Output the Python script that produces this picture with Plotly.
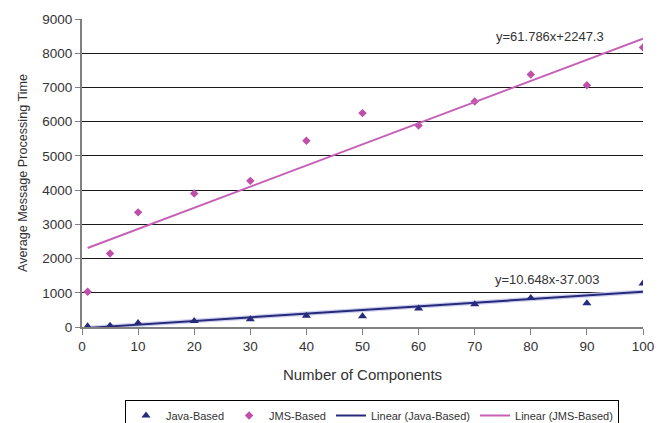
import plotly.graph_objects as go

x_components = [1, 5, 10, 20, 30, 40, 50, 60, 70, 80, 90, 100]
java_based = [20, 40, 120, 175, 225, 330, 312, 538, 665, 850, 694, 1270]
jms_based = [1030, 2150, 3350, 3900, 4270, 5440, 6250, 5886, 6588, 7378, 7067, 8167]

java_slope, java_intercept = 10.648, -37.003
jms_slope, jms_intercept = 61.786, 2247.3
trend_x = [1, 100]
java_trend = [java_slope * v + java_intercept for v in trend_x]
jms_trend = [jms_slope * v + jms_intercept for v in trend_x]

x_ticks = list(range(0, 101, 10))
y_ticks = list(range(0, 9001, 1000))

NAVY = "#27297A"
MAGENTA = "#C04FAA"
FONT = "Liberation Sans"

# page body has an 8px default margin; figure is sized to the visible area
W, H = 657, 415

fig = go.Figure()
# halo under java trend line
fig.add_trace(go.Scatter(x=trend_x, y=java_trend, mode="lines",
                         line=dict(color="#CDD0EE", width=4.5),
                         showlegend=False, hoverinfo="skip"))
fig.add_trace(go.Scatter(x=x_components, y=java_based, mode="markers",
                         name="Java-Based",
                         marker=dict(symbol="triangle-up", size=8, color=NAVY)))
fig.add_trace(go.Scatter(x=x_components, y=jms_based, mode="markers",
                         name="JMS-Based",
                         marker=dict(symbol="diamond", size=6.5, color=MAGENTA)))
fig.add_trace(go.Scatter(x=trend_x, y=java_trend, mode="lines",
                         name="Linear (Java-Based)",
                         line=dict(color=NAVY, width=2)))
fig.add_trace(go.Scatter(x=trend_x, y=jms_trend, mode="lines",
                         name="Linear (JMS-Based)",
                         line=dict(color="#C65FB6", width=2)))

fig.add_annotation(x=83.4, y=8490, text="y=61.786x+2247.3", showarrow=False,
                   font=dict(family=FONT, size=13, color="#333333"))
fig.add_annotation(x=82.9, y=1376, text="y=10.648x-37.003", showarrow=False,
                   font=dict(family=FONT, size=13, color="#333333"))

fig.update_layout(
    width=W, height=H,
    margin=dict(l=74, r=22, t=11, b=96, autoexpand=False),
    paper_bgcolor="white", plot_bgcolor="white",
    font=dict(family=FONT, size=12, color="#333333"),
    showlegend=True,
    legend=dict(orientation="h", x=364 / W, xanchor="center", xref="container",
                y=(H - 392) / H, yanchor="top", yref="container",
                bordercolor="#000000", borderwidth=1,
                font=dict(family=FONT, size=11, color="#333333"),
                itemwidth=30, tracegroupgap=0),
    xaxis=dict(range=[0, 100], tickvals=x_ticks, showgrid=False,
               showline=True, linecolor="#808080", linewidth=2,
               ticks="outside", ticklen=6, tickcolor="#808080",
               zeroline=False, automargin=False,
               tickfont=dict(family=FONT, size=13.5, color="#333333"),
               title=dict(text="Number of Components", standoff=16,
                          font=dict(family=FONT, size=15, color="#333333"))),
    yaxis=dict(range=[0, 9000], tickvals=y_ticks, showgrid=True,
               gridcolor="#1a1a1a", gridwidth=1,
               showline=True, linecolor="#808080", linewidth=2,
               ticks="outside", ticklen=5, tickcolor="#808080",
               zeroline=False, automargin=False,
               tickfont=dict(family=FONT, size=13.5, color="#333333"),
               title=dict(text="Average Message Processing Time", standoff=12,
                          font=dict(family=FONT, size=12.6, color="#333333"))),
)

fig.write_html("out.html")
